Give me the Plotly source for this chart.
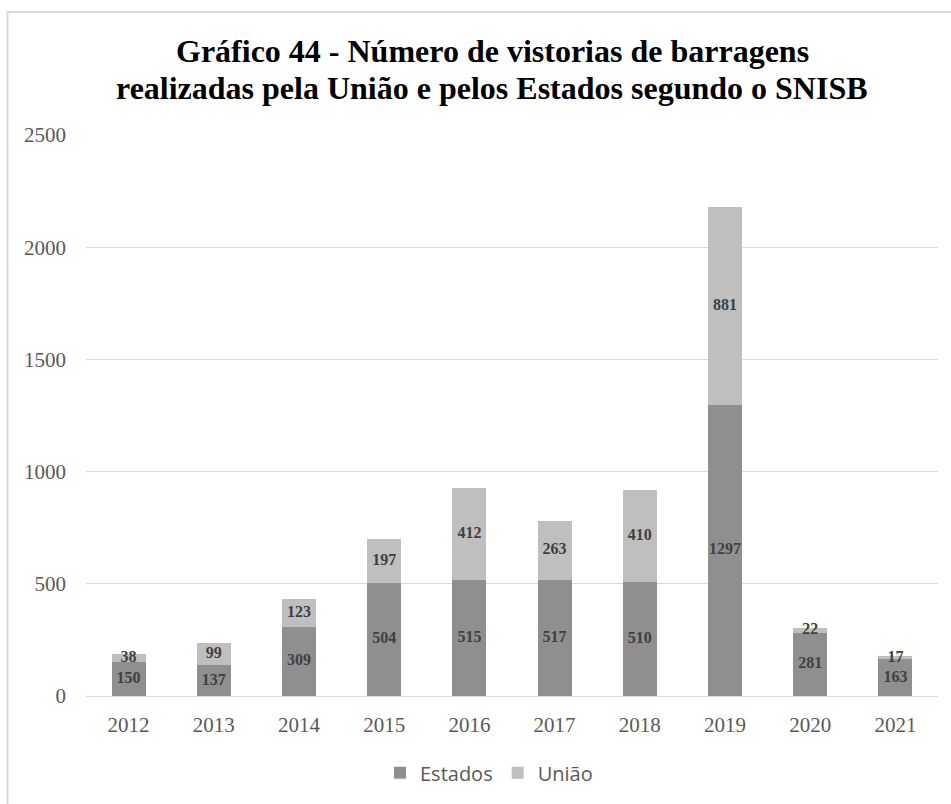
import plotly.graph_objects as go

# Inspections of dams per year, split by who performed them
anos = ["2012", "2013", "2014", "2015", "2016", "2017", "2018", "2019", "2020", "2021"]
estados = [150, 137, 309, 504, 515, 517, 510, 1297, 281, 163]
uniao = [38, 99, 123, 197, 412, 263, 410, 881, 22, 17]

titulo = [
    "Gráfico 44 - Número de vistorias de barragens",
    "realizadas pela União e pelos Estados segundo o SNISB",
]

cor_estados = "#8f8f8f"
cor_uniao = "#bfbfbf"
serif = "Liberation Serif, Times New Roman, serif"
label_font = dict(family=serif, size=16, color="#404040", weight="bold")

fig = go.Figure()
fig.add_trace(go.Bar(
    name="Estados", x=anos, y=estados, marker_color=cor_estados,
    marker_line_width=0, hoverinfo="x+y",
))
fig.add_trace(go.Bar(
    name="União", x=anos, y=uniao, marker_color=cor_uniao,
    marker_line_width=0, hoverinfo="x+y",
))

# Value labels centred in each stacked segment
fig.add_trace(go.Scatter(
    x=anos, y=[v / 2 for v in estados], mode="text",
    text=[str(v) for v in estados], showlegend=False, hoverinfo="skip",
    textfont=label_font,
))
fig.add_trace(go.Scatter(
    x=anos, y=[e + u / 2 for e, u in zip(estados, uniao)], mode="text",
    text=[str(v) for v in uniao], showlegend=False, hoverinfo="skip",
    textfont=label_font,
))

W, H = 951, 804
ml, mr, mt, mb = 86, 13, 135, 106
pw, ph = W - ml - mr, H - mt - mb


def px_x(x):
    return (x - ml) / pw


def px_y(y):
    return (H - mb - y) / ph


annotations = [
    dict(text=titulo[0], x=px_x(492), y=px_y(51)),
    dict(text=titulo[1], x=px_x(492), y=px_y(88)),
]
for a in annotations:
    a.update(xref="paper", yref="paper", xanchor="center", yanchor="middle",
             showarrow=False,
             font=dict(family=serif, size=32, color="black", weight="bold"))

fig.update_layout(
    width=W, height=H,
    barmode="stack", bargap=0.6,
    paper_bgcolor="white", plot_bgcolor="white",
    margin=dict(l=ml, r=mr, t=mt, b=mb),
    annotations=annotations,
    xaxis=dict(
        showgrid=False, showline=True, linecolor="#d9d9d9", linewidth=1,
        ticks="", ticklabelstandoff=10,
        tickfont=dict(family=serif, size=21, color="#595959"),
    ),
    yaxis=dict(
        range=[0, 2500], dtick=500, showgrid=True, gridcolor="#d9d9d9",
        gridwidth=1, zeroline=False, ticks="", ticklabelstandoff=19,
        tickfont=dict(family=serif, size=21, color="#595959"),
    ),
    legend=dict(
        orientation="h", x=px_x(489), xanchor="center", y=px_y(775),
        yanchor="middle",
        font=dict(family="Open Sans, sans-serif", size=20, color="#595959"),
        itemwidth=30, traceorder="normal",
    ),
    shapes=[
        # chart frame
        dict(type="rect", xref="paper", yref="paper",
             x0=px_x(7.5), x1=px_x(W + 5),
             y0=px_y(H + 5), y1=px_y(11.5),
             line=dict(color="#d9d9d9", width=2), layer="below"),
    ],
)

fig.write_html("out.html")
